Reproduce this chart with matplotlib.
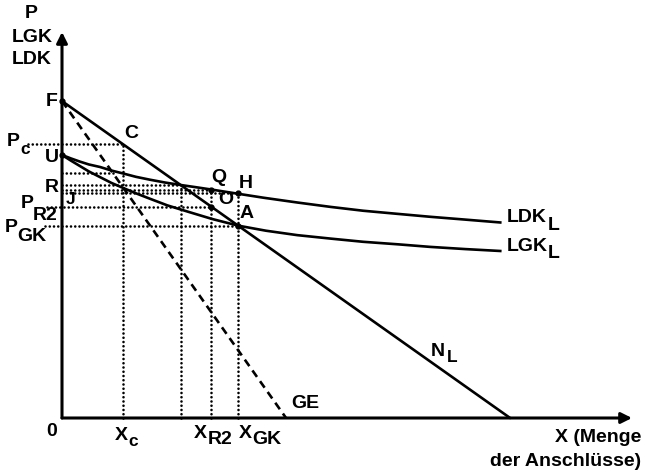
import matplotlib
matplotlib.use("Agg")
import matplotlib.pyplot as plt

plt.rcParams['font.family'] = ['Liberation Sans', 'DejaVu Sans']

# ---- data (arbitrary economic units) ----
demand_x = [0, 100]          # N_L
demand_y = [100, 0]
mr_x = [0, 50]               # GE
mr_y = [100, 0]
ldk_x = [0, 2, 4, 6, 8.5, 11, 13.8, 16.5, 19.6, 23, 26.6, 30, 33.3, 39.1, 45, 52.5, 60, 67.2, 75, 82.1, 90, 97.8]
ldk_y = [83, 81.9, 80.9, 80.0, 79.2, 78.1, 77.1, 76.1, 75.2, 74.3, 73.5, 72.8, 72.1, 70.8, 69.5, 68.0, 66.6, 65.4, 64.4, 63.5, 62.6, 61.7]
lgk_x = [0, 2, 4, 6, 8.5, 11, 13.8, 16.5, 19.6, 23.5, 28.1, 33.5, 39.3, 45.5, 52.5, 60, 67.2, 75, 82.1, 90, 97.8]
lgk_y = [83, 81.2, 79.5, 77.8, 76.0, 74.2, 72.5, 70.9, 69.2, 67.1, 65.1, 62.8, 60.7, 59.1, 57.7, 56.6, 55.6, 54.8, 54.0, 53.3, 52.7]

x_c, x_int, x_r2, x_gk = 13.6, 26.6, 33.3, 39.3
p_c, p_int, r_lvl, h_lvl, p_r2, p_gk = 86.4, 73.5, 72.1, 70.9, 66.7, 60.7
ge_ldk_x, ge_ldk_y = 11.3, 77.4

W, H = 645, 475
fig = plt.figure(figsize=(W / 100, H / 100), dpi=100)
ax = fig.add_axes([62 / W, (H - 418) / H, 570 / W, 386 / H])
ax.set_xlim(0, 127.2)
ax.set_ylim(0, 121.8)
ax.axis('off')

# axes with arrows
ax.annotate('', xy=(127.2, 0), xytext=(0, 0), annotation_clip=False,
            arrowprops=dict(arrowstyle='-|>', lw=2.2, color='black', mutation_scale=16, shrinkA=0, shrinkB=0))
ax.annotate('', xy=(0, 121.8), xytext=(0, 0), annotation_clip=False,
            arrowprops=dict(arrowstyle='-|>', lw=2.2, color='black', mutation_scale=16, shrinkA=0, shrinkB=0))

lw = 1.9
ax.plot(demand_x, demand_y, color='black', lw=lw, clip_on=False, solid_capstyle='round')
ax.plot(mr_x, mr_y, color='black', lw=lw, ls=(0, (3, 2)), clip_on=False)
ax.plot(ldk_x, ldk_y, color='black', lw=lw, clip_on=False, solid_joinstyle='round')
ax.plot(lgk_x, lgk_y, color='black', lw=lw, clip_on=False, solid_joinstyle='round')

dot = dict(color='black', lw=1.9, ls=(0, (0.01, 1.6)), clip_on=False, dash_capstyle='round')
# horizontal dotted guides
ax.plot([-7.6, x_c], [p_c, p_c], **dot)
ax.plot([0, ge_ldk_x], [ge_ldk_y, ge_ldk_y], **dot)
ax.plot([0, x_int], [p_int, p_int], **dot)
ax.plot([0, x_r2], [r_lvl, r_lvl], **dot)
ax.plot([0, x_gk], [h_lvl, h_lvl], **dot)
ax.plot([-3.3, x_r2], [p_r2, p_r2], **dot)
ax.plot([-3.8, x_gk], [p_gk, p_gk], **dot)
# vertical dotted guides
ax.plot([x_c, x_c], [0, p_c], **dot)
ax.plot([x_int, x_int], [0, p_int], **dot)
ax.plot([x_r2, x_r2], [0, r_lvl], **dot)
ax.plot([x_gk, x_gk], [0, h_lvl], **dot)

# points
ax.plot([0, 0, x_r2, x_gk, x_r2, x_gk], [100, 83, r_lvl, h_lvl, p_r2, p_gk], 'o',
        color='black', ms=3.5, clip_on=False)

def t(px, py, s, size=14, ha='center', va='center'):
    fig.text(px / W, 1 - py / H, s, fontsize=size, fontweight='bold', ha=ha, va=va)

big, sub = 14, 12.5
t(31, 13, 'P', big)
t(32, 37, 'LGK', big)
t(32, 59, 'LDK', big)
t(52, 102, 'F', big)
t(13, 142, 'P', big); t(25, 150, 'c', sub)
t(52, 157, 'U', big)
t(131, 133, 'C', big)
t(52, 188, 'R', big)
t(71, 199, 'J', sub)
t(27, 203, 'P', big); t(45, 215, 'R2', big)
t(11, 228, 'P', big); t(32, 237, 'GK', big)
t(219, 178, 'Q', big)
t(246, 183, 'H', big)
t(226, 200, 'O', big)
t(247, 213, 'A', big)
t(305, 403, 'GE', big)
t(438, 351, 'N', big); t(452, 358, 'L', sub)
t(527, 218, 'LDK', big); t(554, 226, 'L', big)
t(527, 246, 'LGK', big); t(554, 253, 'L', big)
t(52, 432, '0', big)
t(121, 435, 'X', big); t(133, 441, 'c', sub)
t(200, 433, 'X', big); t(220, 440, 'R2', big)
t(245, 433, 'X', big); t(267, 440, 'GK', big)
t(641, 437, 'X (Menge', big, ha='right')
t(641, 461, 'der Anschlüsse)', big, ha='right')

fig.savefig('out.png', dpi=100)
